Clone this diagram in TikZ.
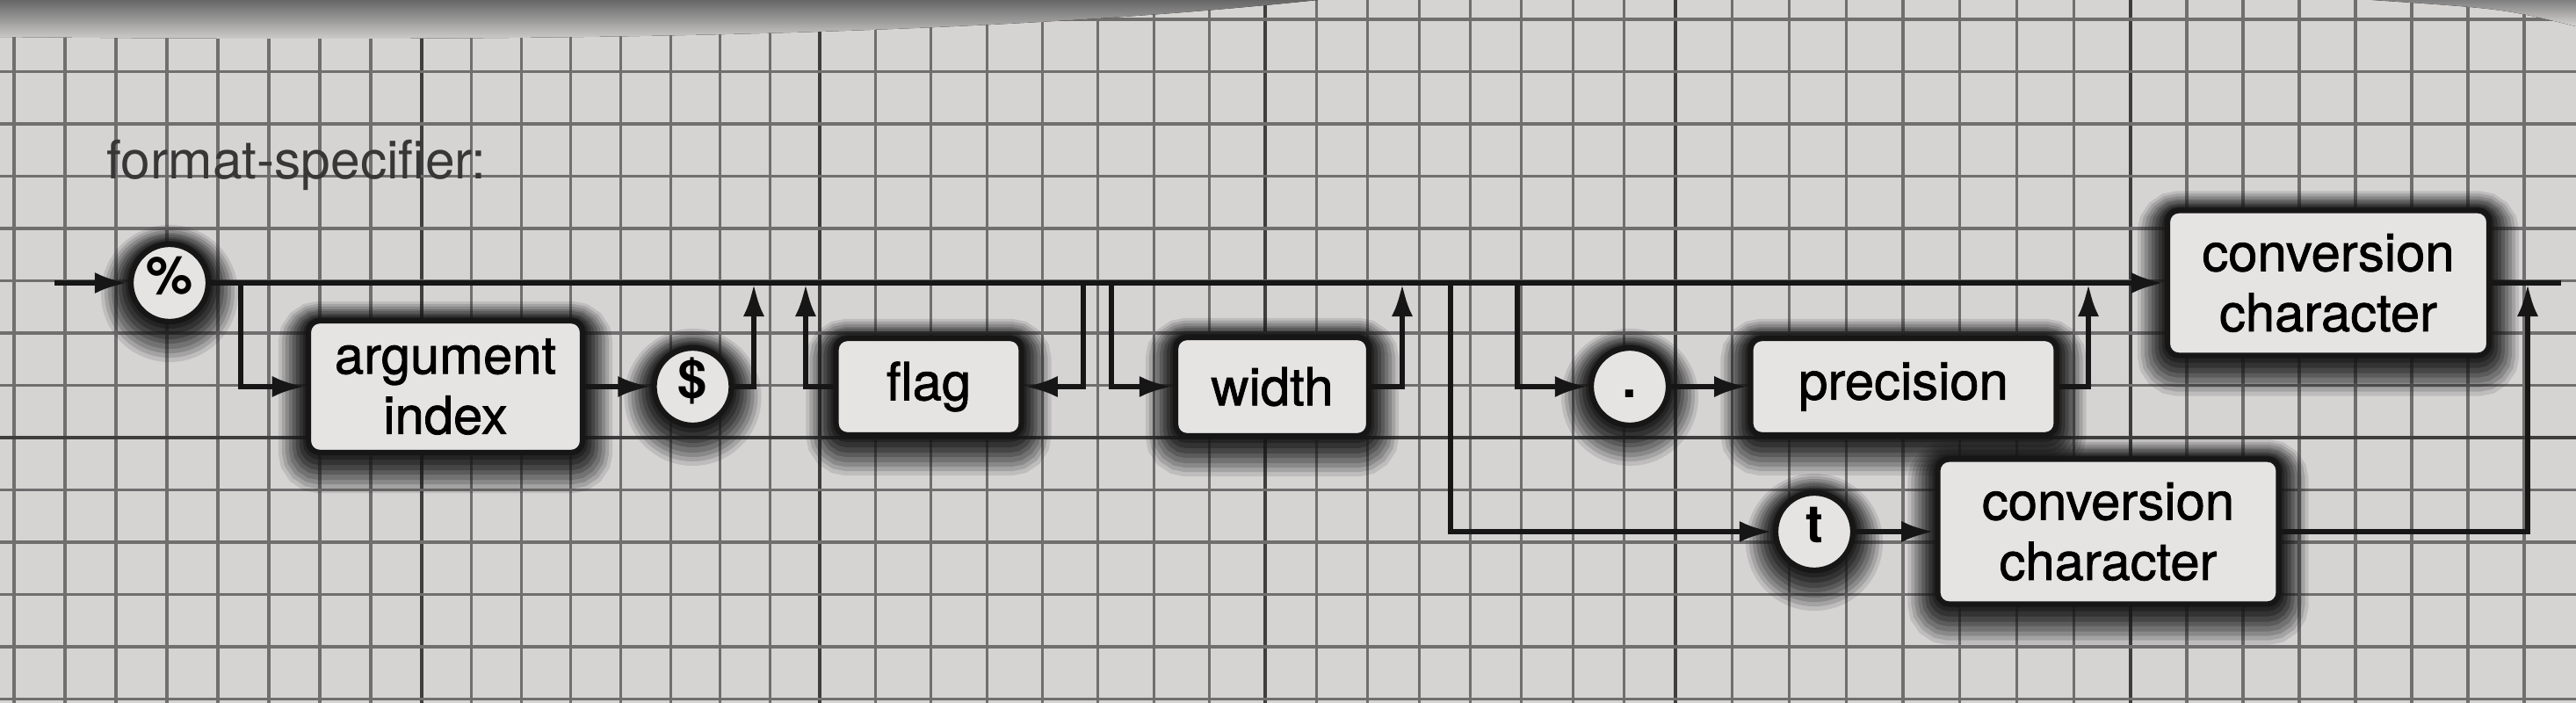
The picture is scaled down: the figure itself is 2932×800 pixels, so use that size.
\documentclass[tikz,border=0pt]{standalone}
\usepackage{fontspec}
\setmainfont{TeX Gyre Heros}
\newfontfamily\heavyheros{TeX Gyre Heros}[FakeBold=1.3]
\usepackage{tikz}
\usetikzlibrary{arrows.meta,positioning}
\usepackage{xcolor}
\definecolor{paper}{RGB}{214,212,211}
\definecolor{boxwhite}{RGB}{230,228,227}
\definecolor{ink}{RGB}{22,22,22}
\definecolor{gridgray}{RGB}{112,110,110}
\definecolor{griddark}{RGB}{62,62,62}
\definecolor{titlegray}{RGB}{55,55,55}
\newcommand{\dgmfont}{\heavyheros\fontsize{17}{19.5}\selectfont}
\newcommand{\dgmtitle}{\fontsize{17.2}{20}\selectfont}
\tikzset{
  minor/.style={gridgray, line width=0.9pt},
  major/.style={griddark, line width=1.4pt},
  halo/.style={
    preaction={draw=ink, line width=0.68cm, opacity=0.12, transform canvas={yshift=-0.12cm}},
    preaction={draw=ink, line width=0.6cm, opacity=0.15, transform canvas={yshift=-0.11cm}},
    preaction={draw=ink, line width=0.52cm, opacity=0.18, transform canvas={yshift=-0.1cm}},
    preaction={draw=ink, line width=0.44cm, opacity=0.2, transform canvas={yshift=-0.09cm}},
    preaction={draw=ink, line width=0.36cm, opacity=0.24, transform canvas={yshift=-0.07cm}},
    preaction={draw=ink, line width=0.28cm, opacity=0.3, transform canvas={yshift=-0.06cm}},
    preaction={draw=ink, line width=0.2cm, opacity=0.38, transform canvas={yshift=-0.04cm}},
    preaction={draw=ink, line width=0.12cm, opacity=0.5, transform canvas={yshift=-0.02cm}}},
  box/.style={rectangle, rounded corners=0.13cm, draw=ink, line width=1.8pt, fill=boxwhite, halo, align=center, inner sep=0pt, font=\dgmfont},
  term/.style={circle, minimum size=0.88cm, draw=ink, line width=1.8pt, fill=boxwhite, halo, inner sep=0pt, text height=0.72em, text depth=0pt, font=\fontsize{17}{19.5}\selectfont\bfseries},
  line/.style={ink, line width=1.9pt},
  arr/.style={line, -{Latex[length=0.38cm,width=0.24cm]}}
}

\begin{document}
\begin{tikzpicture}[x=0.01cm, y=-0.01cm]
\useasboundingbox (0,0) rectangle (2932,800);
\fill[paper] (0,0) rectangle (2932,800);

% graph paper
\foreach \a/\b in {16/480, 480/933, 933/1440, 1440/1907, 1907/2425, 2425/2937}
  \foreach \k in {0,...,7}
    \draw[minor] ({\a+(\b-\a)*\k/8},0) -- ({\a+(\b-\a)*\k/8},800);
\foreach \gx in {480,933,1440,1907,2425}
  \draw[major] (\gx,0) -- (\gx,800);
\foreach \k in {0,...,13}
  \draw[minor] (0,{22+59.5*\k}) -- (2932,{22+59.5*\k});
\draw[major] (0,498) -- (2932,498);
\fill[top color=black!60, bottom color=paper] (0,0) -- (1500,0) .. controls (1100,42) and (600,48) .. (0,42) -- cycle;
\fill[top color=black!50, bottom color=paper] (2700,0) -- (2932,0) -- (2932,30) .. controls (2850,10) .. (2700,0) -- cycle;

% Title
\node (title) [anchor=base west, inner sep=0pt, font=\dgmtitle, text=titlegray] at (121,203) {format-specifier:};

% Nodes
\node (pct) [term] at (193,322) {\%};
\node (argidx) [box, minimum width=3.12cm, minimum height=1.5cm] at (507,440) {argument\\index};
\node (dollar) [term, right=0.75cm of argidx] {\$};
\node (flag) [box, minimum width=2.11cm, minimum height=1.1cm] at (1057,440) {flag};
\node (width) [box, minimum width=2.2cm, minimum height=1.12cm] at (1448,440) {width};
\node (dot) [term] at (1855,440) {.};
\node (prec) [box, minimum width=3.48cm, minimum height=1.1cm, right=0.87cm of dot] {precision};
\node (conv1) [box, minimum width=3.66cm, minimum height=1.65cm] at (2650,322) {conversion\\character};
\node (tee) [term] at (2065,605) {t};
\node (conv2) [box, minimum width=3.88cm, minimum height=1.65cm, right=0.9cm of tee] {conversion\\character};

% Junctions on the main line
\coordinate (start) at (62,322);
\coordinate (stop) at (2915,322);
\coordinate (jA) at (274,322);
\coordinate (jB) at (858,322);
\coordinate (jC) at (917,322);
\coordinate (jD) at (1233,322);
\coordinate (jE) at (1265,322);
\coordinate (jF) at (1596,322);
\coordinate (jG) at (1651,322);
\coordinate (jH) at (1727,322);
\coordinate (jI) at (2377,322);
\coordinate (jJ) at (2877,322);

% Connectors
\draw[arr] (start) -- (pct);
\draw[arr] (pct) -- (conv1);
\draw[arr] (jA) |- (argidx);
\draw[arr] (argidx) -- (dollar);
\draw[arr] (dollar) -| (jB);
\draw[arr] (flag) -| (jC);
\draw[arr] (jD) |- (flag);
\draw[arr] (jE) |- (width);
\draw[arr] (width) -| (jF);
\draw[arr] (jG) |- (tee);
\draw[arr] (jH) |- (dot);
\draw[arr] (dot) -- (prec);
\draw[arr] (prec) -| (jI);
\draw[arr] (tee) -- (conv2);
\draw[line] (conv1) -- (stop);
\draw[arr] (conv2) -| (jJ);
\end{tikzpicture}
\end{document}
